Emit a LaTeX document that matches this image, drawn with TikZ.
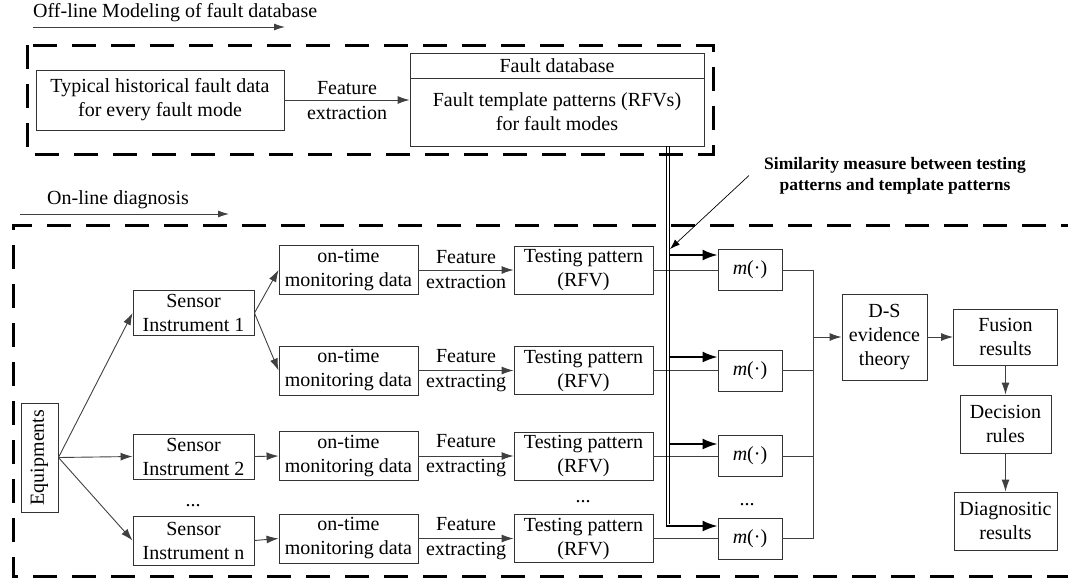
\documentclass[tikz,border=0pt]{standalone}
\usepackage{fontspec}
\setmainfont{Liberation Serif}
\usetikzlibrary{arrows.meta,calc}
\begin{document}
\begin{tikzpicture}[x=1pt,y=-1pt,
  box/.style={draw=black!80, line width=0.9pt, inner sep=0pt, align=center, font=\fontsize{20}{24}\selectfont},
  conn/.style={draw=black!75, line width=0.9pt},
  arr/.style={conn, -{Latex[length=12pt,width=8pt]}},
  bigarr/.style={draw=black, line width=1.8pt, -{Latex[length=15pt,width=11pt]}},
  dbox/.style={draw=black, line width=3pt, dash pattern=on 24pt off 15pt},
  lbl/.style={inner sep=0pt, align=center, font=\fontsize{20}{25}\selectfont},
]
\useasboundingbox (0,0) rectangle (1068,582);

% ---------- off-line part ----------
\node[lbl, anchor=west] (t1) at (33,13) {Off-line Modeling of fault database};
\coordinate (t1a) at (33,27);
\coordinate (t1b) at (285,27);
\draw[arr, -{Latex[length=11pt,width=7pt]}] (t1a) -- (t1b);

\draw[dbox] (27,45) rectangle (713,154);

\node[box, minimum width=248pt, minimum height=60pt] (typ) at (160,100) {Typical historical fault data\\for every fault mode};
\node[box, minimum width=294pt, minimum height=25pt] (fdbh) at (557,65.5) {Fault database};
\node[box, minimum width=294pt, minimum height=68pt] (fdbb) at (557,112) {Fault template patterns (RFVs)\\for fault modes};
\draw[arr] (typ.east) -- (fdbb.west |- typ.east);
\node[lbl] (fe0) at (347,100.5) {Feature\\extraction};

% ---------- on-line part ----------
\node[lbl, anchor=west] (t2) at (47,200) {On-line diagnosis};
\coordinate (t2a) at (20,214);
\coordinate (t2b) at (229,214);
\draw[arr, -{Latex[length=11pt,width=7pt]}] (t2a) -- (t2b);

\draw[dbox] (1085,225) -- (13,225) -- (13,576) -- (1085,576);

% equipments
\node[box, minimum width=37pt, minimum height=109pt] (eq) at (39.5,457.5) {};
\node[lbl, rotate=90] (eqt) at (eq.center) {Equipments};

% sensors
\node[box, minimum width=121pt, minimum height=45pt] (s1) at (193.5,313) {Sensor\\Instrument 1};
\node[box, minimum width=121pt, minimum height=45pt] (s2) at (193.5,456.5) {Sensor\\Instrument 2};
\node[box, minimum width=121pt, minimum height=49pt] (sn) at (193.5,540.5) {Sensor\\Instrument n};
\node[lbl] (d1) at (193,506) {...};

\draw[arr] (eq.east) -- (s1.west);
\draw[arr] (eq.east) -- (s2.west);
\draw[arr] (eq.east) -- (sn.west);

% monitoring data
\foreach \i/\r in {1/270,2/370.5,3/456,4/538.5}{
  \node[box, minimum width=139pt, minimum height=49pt] (on\i) at (348.5,\r) {on-time\\monitoring data};
  \node[box, minimum width=139pt, minimum height=48pt] (tp\i) at (583.5,\r) {Testing pattern\\(RFV)};
  \node[box, minimum width=64pt, minimum height=41pt] (m\i) at (750,\r) {\textit{m}(·)};
  \draw[arr] (on\i.east) -- (tp\i.west);
  \draw[conn] (tp\i.east) -- (m\i.west);
}
\node[lbl] (fe1) at ($(on1.east)!0.5!(tp1.west)$) {Feature\\extraction};
\node[lbl] (fe2) at ($(on2.east)!0.5!(tp2.west)$) {Feature\\extracting};
\node[lbl] (fe3) at ($(on3.east)!0.5!(tp3.west)$) {Feature\\extracting};
\node[lbl] (fe4) at ($(on4.east)!0.5!(tp4.west)$) {Feature\\extracting};
\node[lbl] (d2) at (583,502) {...};
\node[lbl] (d3) at (747,505) {...};

\draw[arr] (s1.east) -- (on1.west);
\draw[arr] (s1.east) -- (on2.west);
\draw[arr] (s2.east) -- (on3.west);
\draw[arr] (sn.east) -- (on4.west);

% double line from fault database
\coordinate (dl) at (666,146);
\coordinate (dr) at (669.5,146);
\coordinate (dlb) at (666,526.5);
\coordinate (drb) at (669.5,524);
\draw[black, line width=1pt] (dr) -- (drb);
\draw[black, line width=1pt] (dl) -- (dlb);
\coordinate (a1) at ($(m1.west)+(0,-15)$);
\coordinate (a2) at ($(m2.west)+(0,-13.5)$);
\coordinate (a3) at ($(m3.west)+(0,-12)$);
\coordinate (a4) at ($(m4.west)+(0,-12.5)$);
\draw[bigarr] (a1 -| dr) -- (a1);
\draw[bigarr] (a2 -| dr) -- (a2);
\draw[bigarr] (a3 -| dr) -- (a3);
\draw[bigarr] ([xshift=-0.5pt]a4 -| dl) -- (a4);

% similarity label
\node[lbl, font=\bfseries\fontsize{17.5}{21}\selectfont] (sim) at (895,175.5) {Similarity measure between testing\\patterns and template patterns};
\coordinate (simt) at (670,249);
\draw[conn, draw=black, line width=0.7pt, -{Latex[length=10pt,width=7pt]}] ([xshift=-15pt]sim.west) -- (simt);

% fusion
\node[box, minimum width=85pt, minimum height=86pt] (ds) at (884.5,337) {D-S\\evidence\\theory};
\node[box, minimum width=104pt, minimum height=56pt] (fus) at (1005.5,337) {Fusion\\results};
\node[box, minimum width=91pt, minimum height=58pt] (dec) at (1005.5,424) {Decision\\rules};
\node[box, minimum width=103pt, minimum height=58pt] (dia) at (1005.5,521) {Diagnositic\\results};

\coordinate (busx) at (813,0);
\draw[conn] (m1.east) -- (m1.east -| busx) -- (m4.east -| busx) -- (m4.east);
\draw[conn] (m2.east) -- (m2.east -| busx);
\draw[conn] (m3.east) -- (m3.east -| busx);
\draw[arr] (ds.west -| busx) -- (ds.west);
\draw[arr] (ds.east) -- (fus.west);
\draw[arr] (fus.south) -- (dec.north);
\draw[arr] (dec.south) -- (dia.north);
\end{tikzpicture}
\end{document}
